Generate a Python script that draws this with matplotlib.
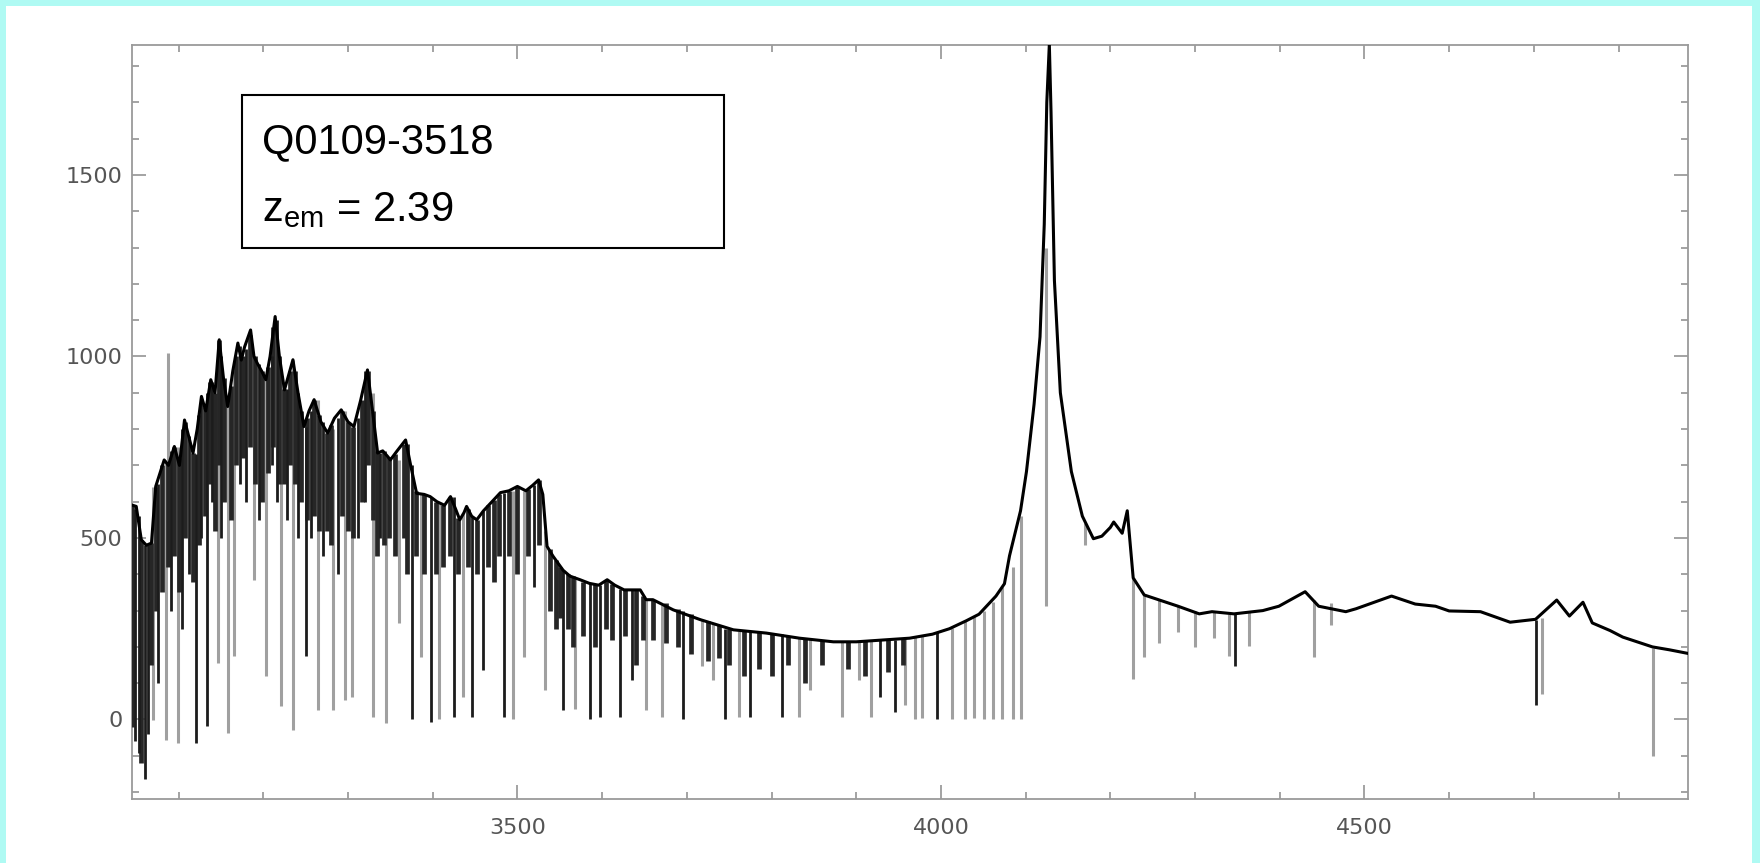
import numpy as np
import matplotlib.pyplot as plt
from matplotlib.patches import Rectangle
from matplotlib.ticker import MultipleLocator

# upper envelope / continuum of the spectrum (wavelength, flux)
wave_env = [3046, 3050, 3056, 3062, 3068, 3073, 3083, 3088, 3095, 3101, 3107, 3112, 3117,
            3122, 3127, 3132, 3138, 3143, 3148, 3153, 3158, 3164, 3170, 3174, 3178, 3185,
            3189, 3193, 3198, 3203, 3208, 3214, 3219, 3225, 3230, 3235, 3241, 3248, 3254,
            3260, 3268, 3276, 3284, 3292, 3300, 3307, 3315, 3323, 3329, 3335, 3341, 3347,
            3350, 3358, 3368, 3374, 3381, 3390, 3397, 3405, 3414, 3421, 3427, 3432, 3437,
            3440, 3446, 3452, 3460, 3472, 3480, 3490, 3500, 3510, 3518, 3525, 3530, 3535,
            3542, 3554, 3562, 3574, 3585, 3596, 3606, 3615, 3626, 3645, 3652, 3660, 3684,
            3716, 3755, 3794, 3833, 3873, 3900, 3932, 3963, 3990, 4010, 4030, 4045, 4055,
            4065, 4075, 4081, 4094, 4101, 4110, 4117, 4122, 4125, 4128, 4130, 4134, 4141,
            4154, 4167, 4180, 4190, 4200, 4204, 4214, 4220, 4227, 4240, 4280, 4305, 4320,
            4346, 4380, 4399, 4430, 4446, 4478, 4490, 4532, 4560, 4584, 4600, 4637, 4672,
            4702, 4727, 4742, 4758, 4769, 4790, 4805, 4840, 4860, 4882]
flux_env = [590, 587, 495, 480, 486, 642, 715, 700, 752, 700, 825, 780, 734,
            800, 890, 850, 936, 900, 1046, 940, 862, 960, 1037, 990, 1027, 1073,
            1000, 981, 960, 936, 1000, 1110, 1000, 908, 950, 991, 900, 807, 850,
            881, 820, 789, 830, 853, 820, 807, 880, 963, 850, 734, 740, 724,
            715, 740, 770, 700, 623, 620, 614, 600, 590, 614, 580, 550, 570,
            587, 560, 550, 575, 605, 625, 630, 642, 630, 645, 660, 620, 477,
            450, 411, 395, 385, 375, 370, 385, 370, 357, 357, 330, 330, 302,
            275, 247, 238, 224, 214, 214, 219, 224, 235, 250, 272, 290, 315,
            340, 374, 451, 575, 683, 869, 1054, 1364, 1700, 1860, 1673, 1209, 900,
            683, 560, 498, 505, 529, 544, 513, 575, 390, 343, 312, 291, 297,
            291, 300, 312, 352, 312, 297, 305, 340, 318, 312, 299, 297, 268,
            276, 329, 285, 323, 266, 245, 227, 200, 192, 182]

# saturated / strong absorption lines: wavelength, top, bottom
dark_wave = [3048, 3053, 3060, 3064, 3076, 3091, 3104, 3112, 3121, 3127, 3134, 3140,
             3150, 3172, 3180, 3195, 3210, 3216, 3228, 3241, 3250, 3256, 3270, 3288,
             3312, 3320, 3338, 3376, 3398, 3425, 3446, 3459, 3484, 3520, 3554, 3586,
             3598, 3621, 3635, 3696, 3745, 3775, 3812, 3928, 3946, 3995, 4347, 4702]
dark_top = [580, 560, 480, 480, 650, 740, 800, 780, 730, 880, 900, 930,
            1000, 1030, 1020, 980, 1000, 1100, 910, 900, 807, 850, 820, 830,
            830, 960, 734, 700, 614, 614, 560, 575, 625, 645, 411, 375,
            370, 360, 357, 300, 250, 242, 235, 218, 220, 240, 290, 274]
dark_bottom = [-60, -92, -165, -40, 100, 300, 250, 400, -65, 500, -19, 600,
               500, 650, 600, 550, 700, 600, 550, 500, 174, 500, 450, 400,
               500, 600, 500, 0, -8, 8, 8, 137, 8, 365, 27, 0,
               8, 8, 110, 0, 0, 8, 8, 63, 20, 0, 147, 40]

# blended shallow lines that fill the top of the forest
blend_wave = [3045, 3056, 3067, 3073, 3080, 3087, 3095, 3100, 3108, 3117, 3124, 3131,
              3137, 3143, 3148, 3154, 3162, 3168, 3176, 3184, 3190, 3199, 3206, 3212,
              3219, 3224, 3232, 3238, 3245, 3252, 3260, 3266, 3275, 3280, 3293, 3300,
              3306, 3316, 3324, 3330, 3334, 3342, 3348, 3355, 3366, 3370, 3380, 3390,
              3404, 3412, 3420, 3430, 3442, 3452, 3465, 3472, 3478, 3490, 3500, 3512,
              3526, 3538, 3546, 3550, 3560, 3566, 3578, 3592, 3605, 3612, 3627, 3640,
              3648, 3660, 3675, 3690, 3705, 3725, 3738, 3750, 3768, 3785, 3800, 3820,
              3840, 3860, 3890, 3910, 3937, 3955]
blend_top = [590, 495, 486, 640, 700, 710, 750, 720, 820, 734, 840, 860,
             930, 900, 1046, 940, 920, 1000, 1000, 1060, 1000, 960, 970, 1080,
             1000, 910, 960, 960, 850, 830, 880, 840, 789, 810, 850, 820,
             807, 880, 960, 850, 740, 740, 724, 730, 760, 760, 630, 620,
             600, 590, 614, 555, 580, 550, 590, 605, 620, 630, 640, 635,
             660, 470, 440, 420, 400, 395, 380, 372, 385, 372, 357, 357,
             340, 330, 320, 305, 290, 270, 260, 248, 244, 240, 238, 230,
             224, 216, 214, 215, 219, 222]
blend_bottom = [-20, -120, 150, 300, 350, 420, 450, 350, 500, 380, 480, 560,
                650, 520, 700, 600, 550, 700, 720, 750, 650, 600, 680, 750,
                650, 650, 700, 650, 600, 550, 560, 520, 520, 480, 560, 520,
                500, 600, 700, 550, 450, 480, 500, 450, 500, 400, 450, 400,
                400, 420, 450, 400, 420, 400, 420, 380, 450, 450, 400, 450,
                480, 300, 250, 280, 250, 200, 230, 200, 250, 220, 230, 150,
                220, 220, 210, 200, 180, 160, 170, 150, 120, 140, 120, 150,
                100, 150, 140, 120, 130, 150]

# weaker (grey) absorption lines: wavelength, top, bottom
grey_wave = [3070, 3085, 3088, 3099, 3146, 3158, 3166, 3189, 3203, 3221, 3235, 3264,
             3282, 3296, 3305, 3329, 3345, 3360, 3386, 3408, 3436, 3495, 3508, 3533,
             3568, 3652, 3671, 3718, 3731, 3762, 3832, 3845, 3883, 3903, 3918, 3958,
             3969, 3978, 4013, 4029, 4039, 4051, 4062, 4072, 4085, 4094, 4124, 4170,
             4227, 4240, 4258, 4280, 4300, 4322, 4340, 4364, 4440, 4460, 4710, 4841]
grey_top = [640, 715, 1009, 750, 1040, 860, 960, 1000, 936, 950, 990, 881,
            800, 850, 807, 900, 724, 715, 620, 600, 570, 630, 630, 520,
            390, 330, 315, 275, 265, 245, 226, 224, 214, 214, 215, 224,
            228, 232, 252, 270, 282, 300, 325, 365, 420, 560, 1300, 540,
            390, 343, 330, 312, 300, 295, 291, 295, 330, 320, 280, 197]
grey_bottom = [-1, -56, 700, -65, 155, -37, 174, 385, 119, 36, -28, 27,
               27, 54, 63, 8, -10, 265, 173, 0, 63, 0, 173, 82,
               30, 27, 8, 146, 110, 8, 8, 82, 8, 110, 8, 40,
               0, 5, 0, 0, 5, 0, 0, 0, 0, 0, 312, 480,
               111, 173, 210, 240, 200, 225, 175, 202, 172, 260, 70, -100]

x_major = 500
y_major = 500

plt.rcParams['mathtext.fontset'] = 'custom'
plt.rcParams['mathtext.rm'] = 'Liberation Sans'
plt.rcParams['mathtext.it'] = 'Liberation Sans'

fig = plt.figure(figsize=(17.6, 8.63), dpi=100, facecolor='#affaf3')
# white page inside the cyan frame
fig.patches.append(Rectangle((6 / 1760, 0), 1746 / 1760, 1 - 6 / 863,
                             transform=fig.transFigure, facecolor='white',
                             edgecolor='none', zorder=-10))
ax = fig.add_axes([132 / 1760, 1 - 799 / 863, 1556 / 1760, 754 / 863])
ax.set_zorder(1)

ax.vlines(grey_wave, grey_bottom, grey_top, colors='#a0a0a0', linewidth=2.2, zorder=2)
ax.vlines(blend_wave, blend_bottom, blend_top, colors='#262626', linewidth=3.4, zorder=3)
ax.vlines(dark_wave, dark_bottom, dark_top, colors='#1c1c1c', linewidth=2.0, zorder=3)
ax.plot(wave_env, flux_env, color='black', linewidth=2.2, zorder=4)

ax.set_xlim(3045, 4882)
ax.set_ylim(-219, 1858)

ax.xaxis.set_major_locator(MultipleLocator(x_major))
ax.xaxis.set_minor_locator(MultipleLocator(100))
ax.yaxis.set_major_locator(MultipleLocator(y_major))
ax.yaxis.set_minor_locator(MultipleLocator(100))
ax.tick_params(which='both', direction='in', top=True, right=True, color='#8a8a8a',
               width=1.1, labelcolor='#555555', labelsize=16)
ax.tick_params(which='major', length=10)
ax.tick_params(which='minor', length=5)
ax.tick_params(axis='x', pad=14)
ax.tick_params(axis='y', pad=7)
for s in ax.spines.values():
    s.set_color('#9a9a9a')
    s.set_linewidth(1.3)

ax.add_patch(Rectangle((0.0707, 0.7308), 0.3098, 0.2029, transform=ax.transAxes,
                       facecolor='white', edgecolor='black', linewidth=1.5, zorder=6))
ax.text(0.0835, 0.871, 'Q0109-3518', transform=ax.transAxes, fontsize=30,
        family='Liberation Sans', va='center', ha='left', zorder=7)
ax.text(0.0835, 0.781, r'z$_{\mathrm{em}}$ = 2.39', transform=ax.transAxes, fontsize=30,
        family='Liberation Sans', va='center', ha='left', zorder=7)

fig.savefig('out.png', dpi=100, facecolor=fig.get_facecolor())
